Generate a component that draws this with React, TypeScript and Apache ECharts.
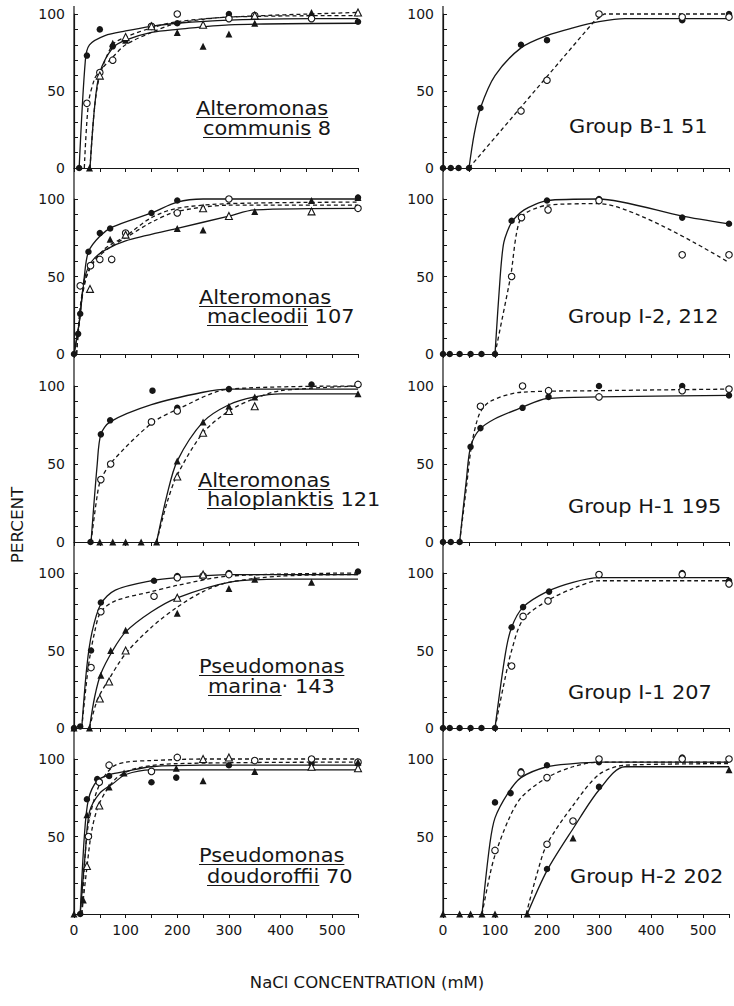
import React, { useEffect, useRef } from 'react';
import * as echarts from 'echarts';

type P = [number, number];

// ---------- tick values ----------
const xMax = 550;
const xStep = 50;
const yTicksMajor = [0, 50, 100];

// ---------- Panel 1: Alteromonas communis 8 ----------
const communisFC: P[] = [[10, 0], [25, 73], [50, 90], [75, 79], [200, 94], [300, 100], [550, 95]];
const communisOC: P[] = [[25, 42], [50, 62], [75, 70], [150, 92], [200, 100], [300, 97], [350, 99], [460, 97]];
const communisFT: P[] = [[30, 0], [75, 81], [100, 83], [200, 88], [250, 79], [300, 87], [350, 94], [460, 101]];
const communisOT: P[] = [[50, 60], [100, 85], [150, 92], [250, 93], [350, 99], [550, 101]];
const communisCurveFC: P[] = [[10, 0], [22, 70], [30, 80], [60, 86], [100, 89], [150, 92], [200, 94], [300, 96], [460, 97], [550, 97]];
const communisCurveOC: P[] = [[20, 0], [28, 42], [40, 58], [50, 63], [75, 72], [100, 80], [150, 88], [200, 94], [300, 98], [550, 99]];
const communisCurveFT: P[] = [[31, 0], [40, 40], [50, 62], [75, 78], [100, 83], [150, 88], [200, 90], [300, 93], [550, 94]];
const communisCurveOT: P[] = [[31, 0], [40, 40], [50, 60], [75, 80], [100, 85], [150, 91], [200, 95], [300, 98], [550, 101]];

// ---------- Panel 2: Alteromonas macleodii 107 ----------
const macleodiiFC: P[] = [[0, 0], [8, 13], [12, 26], [28, 66], [50, 78], [70, 81], [150, 91], [200, 99], [550, 101]];
const macleodiiOC: P[] = [[12, 44], [32, 57], [50, 61], [73, 61], [100, 78], [200, 91], [300, 100], [550, 94]];
const macleodiiFT: P[] = [[70, 74], [200, 81], [250, 80], [350, 92], [460, 99], [550, 101]];
const macleodiiOT: P[] = [[31, 42], [100, 77], [250, 94], [300, 89], [460, 92]];
const macleodiiCurveFC: P[] = [[0, 0], [10, 20], [20, 50], [28, 66], [50, 76], [75, 82], [150, 91], [200, 98], [250, 100], [550, 100]];
const macleodiiCurveFT: P[] = [[0, 0], [10, 20], [20, 48], [35, 60], [60, 67], [100, 73], [200, 81], [300, 89], [350, 93], [550, 94]];
const macleodiiCurveOC: P[] = [[5, 0], [12, 30], [22, 48], [40, 60], [70, 69], [100, 75], [150, 85], [200, 92], [300, 96], [550, 96]];
const macleodiiCurveOT: P[] = [[5, 0], [15, 35], [30, 55], [60, 68], [100, 76], [150, 88], [200, 94], [300, 97], [550, 98]];

// ---------- Panel 3: Alteromonas haloplanktis 121 ----------
const haloFC: P[] = [[32, 0], [52, 69], [70, 78], [152, 97], [200, 86], [300, 98], [460, 101], [550, 101]];
const haloOC: P[] = [[52, 40], [71, 50], [150, 77], [200, 84], [550, 101]];
const haloFT: P[] = [[50, 0], [75, 0], [100, 0], [130, 0], [160, 0], [200, 52], [250, 77], [300, 87], [350, 93], [550, 95]];
const haloOT: P[] = [[200, 42], [250, 70], [300, 84], [350, 87]];
const haloCurveFC: P[] = [[33, 0], [45, 50], [52, 69], [70, 77], [150, 88], [250, 96], [300, 98], [550, 98]];
const haloCurveOC: P[] = [[33, 0], [45, 30], [52, 40], [75, 52], [150, 76], [200, 85], [300, 98], [550, 100]];
const haloCurveFT: P[] = [[160, 0], [180, 30], [200, 52], [250, 77], [300, 88], [350, 93], [400, 95], [550, 95]];
const haloCurveOT: P[] = [[160, 0], [180, 25], [200, 43], [250, 70], [300, 84], [350, 92], [400, 97], [550, 100]];

// ---------- Panel 4: Pseudomonas marina 143 ----------
const marinaFC: P[] = [[0, 0], [12, 1], [33, 50], [52, 81], [155, 95], [200, 98], [300, 100], [550, 101]];
const marinaOC: P[] = [[33, 39], [52, 75], [155, 85], [200, 97], [250, 98], [300, 99]];
const marinaFT: P[] = [[0, 0], [30, 0], [52, 34], [71, 50], [100, 63], [200, 74], [300, 90], [350, 96], [460, 94]];
const marinaOT: P[] = [[50, 19], [68, 30], [100, 50], [200, 84], [250, 99]];
const marinaCurveFC: P[] = [[15, 0], [25, 40], [35, 62], [52, 80], [80, 89], [150, 95], [200, 97], [300, 99], [550, 99]];
const marinaCurveOC: P[] = [[15, 0], [28, 40], [40, 62], [52, 75], [80, 82], [150, 88], [200, 92], [300, 98], [550, 100]];
const marinaCurveFT: P[] = [[30, 0], [40, 20], [52, 35], [75, 50], [100, 62], [150, 75], [200, 84], [300, 94], [400, 96], [550, 96]];
const marinaCurveOT: P[] = [[30, 0], [45, 18], [65, 30], [100, 48], [150, 65], [200, 78], [250, 88], [300, 94], [400, 98], [550, 99]];

// ---------- Panel 5: Pseudomonas doudoroffii 70 ----------
const doudFC: P[] = [[12, 0], [25, 74], [45, 87], [68, 89], [150, 85], [198, 88], [300, 96], [460, 97], [550, 97]];
const doudOC: P[] = [[28, 50], [49, 85], [68, 96], [150, 92], [200, 101], [350, 99], [460, 100], [550, 98]];
const doudFT: P[] = [[0, 0], [18, 9], [25, 64], [68, 82], [97, 91], [198, 94], [250, 86], [350, 92], [550, 98]];
const doudOT: P[] = [[25, 31], [49, 70], [250, 100], [300, 101], [460, 95], [550, 94]];
const doudCurveFC: P[] = [[12, 0], [20, 50], [28, 74], [45, 86], [70, 90], [100, 92], [150, 95], [250, 96], [550, 96]];
const doudCurveOC: P[] = [[15, 0], [22, 40], [30, 62], [50, 84], [75, 95], [100, 98], [150, 99], [250, 100], [550, 100]];
const doudCurveFT: P[] = [[12, 0], [22, 40], [30, 66], [50, 78], [75, 84], [100, 90], [150, 93], [250, 93], [550, 93]];
const doudCurveOT: P[] = [[15, 0], [25, 30], [35, 55], [50, 72], [80, 87], [120, 94], [200, 97], [550, 98]];

// ---------- Panel 6: Group B-1 51 ----------
const b1FC: P[] = [[0, 0], [15, 0], [30, 0], [50, 0], [72, 39], [150, 80], [200, 83], [460, 96], [550, 100]];
const b1OC: P[] = [[150, 37], [200, 57], [300, 100], [460, 98], [550, 98]];
const b1CurveFC: P[] = [[50, 0], [60, 22], [72, 39], [100, 60], [150, 78], [200, 86], [250, 91], [300, 95], [350, 97], [550, 97]];
const b1CurveOC: P[] = [[50, 0], [290, 95], [310, 100], [550, 100]];

// ---------- Panel 7: Group I-2, 212 ----------
const i2FC: P[] = [[0, 0], [13, 0], [32, 0], [53, 0], [74, 0], [100, 0], [132, 86], [200, 99], [300, 100], [460, 88], [550, 84]];
const i2OC: P[] = [[132, 50], [151, 88], [202, 93], [300, 99], [460, 64], [550, 64]];
const i2CurveFC: P[] = [[100, 0], [110, 50], [117, 72], [132, 85], [156, 93], [200, 99], [300, 100], [460, 89], [550, 84]];
const i2CurveOC: P[] = [[100, 0], [130, 50], [150, 88], [200, 96], [300, 97], [550, 59]];

// ---------- Panel 8: Group H-1 195 ----------
const h1FC: P[] = [[0, 0], [15, 0], [32, 0], [53, 61], [72, 73], [153, 86], [203, 93], [300, 100], [460, 100], [550, 94]];
const h1OC: P[] = [[72, 87], [153, 100], [203, 97], [300, 93], [460, 97], [550, 98]];
const h1CurveFC: P[] = [[32, 0], [45, 40], [53, 61], [70, 72], [100, 79], [150, 86], [200, 92], [300, 93], [550, 94]];
const h1CurveOC: P[] = [[32, 0], [45, 35], [55, 62], [70, 82], [90, 90], [150, 96], [300, 97], [550, 98]];

// ---------- Panel 9: Group I-1 207 ----------
const i1FC: P[] = [[0, 0], [13, 0], [32, 0], [53, 0], [74, 0], [100, 0], [132, 65], [154, 78], [204, 88], [300, 99], [460, 100], [550, 95]];
const i1OC: P[] = [[132, 40], [154, 72], [202, 82], [300, 99], [460, 99], [550, 93]];
const i1CurveFC: P[] = [[100, 0], [120, 48], [132, 65], [154, 78], [200, 88], [250, 94], [300, 97], [550, 97]];
const i1CurveOC: P[] = [[100, 0], [115, 25], [132, 50], [154, 70], [200, 82], [250, 90], [300, 95], [550, 95]];

// ---------- Panel 10: Group H-2 202 ----------
const h2FC: P[] = [[100, 72], [130, 78], [150, 92], [200, 96], [300, 98], [460, 101], [200, 29], [300, 82]];
const h2OC: P[] = [[100, 41], [150, 91], [200, 88], [200, 45], [250, 60], [300, 100], [460, 100], [550, 100]];
const h2FT: P[] = [[0, 0], [32, 0], [53, 0], [75, 0], [100, 0], [162, 0], [250, 49], [550, 93]];
const h2CurveSolidL: P[] = [[75, 0], [90, 45], [100, 62], [125, 78], [150, 88], [200, 95], [250, 97], [300, 98], [550, 98]];
const h2CurveDashL: P[] = [[75, 0], [90, 25], [100, 38], [125, 60], [150, 75], [200, 88], [250, 95], [300, 98], [550, 98]];
const h2CurveDashR: P[] = [[160, 0], [180, 25], [200, 45], [250, 70], [300, 90], [350, 96], [550, 97]];
const h2CurveSolidR: P[] = [[162, 0], [200, 28], [250, 55], [300, 80], [350, 95], [550, 95]];

// ---------- titles ----------
const titleLines: string[][] = [
  ['Alteromonas', 'communis 8'],
  ['Group B-1 51'],
  ['Alteromonas', 'macleodii 107'],
  ['Group I-2, 212'],
  ['Alteromonas', 'haloplanktis 121'],
  ['Group H-1 195'],
  ['Pseudomonas', 'marina· 143'],
  ['Group I-1 207'],
  ['Pseudomonas', 'doudoroffii 70'],
  ['Group H-2 202'],
];
const underlinedWords: string[][] = [
  ['Alteromonas', 'communis'], [],
  ['Alteromonas', 'macleodii'], [],
  ['Alteromonas', 'haloplanktis'], [],
  ['Pseudomonas', 'marina'], [],
  ['Pseudomonas', 'doudoroffii'], [],
];
const yAxisTitle = 'PERCENT';
const xAxisTitle = 'NaCl CONCENTRATION (mM)';

type Dots = { kind: 'fc' | 'oc' | 'ft' | 'ot'; data: P[] };
type Curve = { dash: boolean; data: P[]; smooth?: number };

const panelDots: Dots[][] = [
  [{ kind: 'fc', data: communisFC }, { kind: 'oc', data: communisOC }, { kind: 'ft', data: communisFT }, { kind: 'ot', data: communisOT }],
  [{ kind: 'fc', data: b1FC }, { kind: 'oc', data: b1OC }],
  [{ kind: 'fc', data: macleodiiFC }, { kind: 'oc', data: macleodiiOC }, { kind: 'ft', data: macleodiiFT }, { kind: 'ot', data: macleodiiOT }],
  [{ kind: 'fc', data: i2FC }, { kind: 'oc', data: i2OC }],
  [{ kind: 'fc', data: haloFC }, { kind: 'oc', data: haloOC }, { kind: 'ft', data: haloFT }, { kind: 'ot', data: haloOT }],
  [{ kind: 'fc', data: h1FC }, { kind: 'oc', data: h1OC }],
  [{ kind: 'fc', data: marinaFC }, { kind: 'oc', data: marinaOC }, { kind: 'ft', data: marinaFT }, { kind: 'ot', data: marinaOT }],
  [{ kind: 'fc', data: i1FC }, { kind: 'oc', data: i1OC }],
  [{ kind: 'fc', data: doudFC }, { kind: 'oc', data: doudOC }, { kind: 'ft', data: doudFT }, { kind: 'ot', data: doudOT }],
  [{ kind: 'fc', data: h2FC }, { kind: 'oc', data: h2OC }, { kind: 'ft', data: h2FT }],
];
const panelCurves: Curve[][] = [
  [{ dash: false, data: communisCurveFC }, { dash: true, data: communisCurveOC }, { dash: false, data: communisCurveFT }, { dash: true, data: communisCurveOT }],
  [{ dash: false, data: b1CurveFC }, { dash: true, data: b1CurveOC, smooth: 0 }],
  [{ dash: false, data: macleodiiCurveFC }, { dash: true, data: macleodiiCurveOC }, { dash: false, data: macleodiiCurveFT }, { dash: true, data: macleodiiCurveOT }],
  [{ dash: false, data: i2CurveFC, smooth: 0.25 }, { dash: true, data: i2CurveOC, smooth: 0.25 }],
  [{ dash: false, data: haloCurveFC }, { dash: true, data: haloCurveOC }, { dash: false, data: haloCurveFT }, { dash: true, data: haloCurveOT }],
  [{ dash: false, data: h1CurveFC }, { dash: true, data: h1CurveOC }],
  [{ dash: false, data: marinaCurveFC }, { dash: true, data: marinaCurveOC }, { dash: false, data: marinaCurveFT }, { dash: true, data: marinaCurveOT }],
  [{ dash: false, data: i1CurveFC }, { dash: true, data: i1CurveOC }],
  [{ dash: false, data: doudCurveFC }, { dash: true, data: doudCurveOC }, { dash: false, data: doudCurveFT }, { dash: true, data: doudCurveOT }],
  [{ dash: false, data: h2CurveSolidL }, { dash: true, data: h2CurveDashL }, { dash: true, data: h2CurveDashR }, { dash: false, data: h2CurveSolidR }],
];

// ---------- layout ----------
const FONT = '"DejaVu Sans", sans-serif';
const INK = '#161616';
const COL_LEFT = [74, 443];
const COL_WIDTH = [284, 286];
const ROW_TOP = [14, 199, 386, 573, 759];
const ROW_H = [154, 155, 156, 155, 155];
// title anchor positions: [x, baseline] for each line
const TITLE_POS: number[][][] = [
  [[196, 115], [203, 135]],
  [[569, 133]],
  [[199, 304], [207, 323]],
  [[568, 323]],
  [[198, 487], [207, 506]],
  [[568, 513]],
  [[199, 673], [208, 693]],
  [[568, 699]],
  [[199, 862], [207, 883]],
  [[570, 883]],
];
const TITLE_SIZE = 19;
const TITLE_SX = 1.1;

function measure(s: string, size: number): number {
  const ctx = document.createElement('canvas').getContext('2d');
  if (!ctx) return s.length * size * 0.6;
  ctx.font = `${size}px "DejaVu Sans"`;
  return ctx.measureText(s).width;
}

export default function App() {
  const ref = useRef<HTMLDivElement>(null);
  useEffect(() => {
    document.body.style.margin = '0';
    if (!ref.current) return;
    const chart = echarts.init(ref.current, undefined, { renderer: 'svg' });

    const grids: any[] = [];
    const xAxes: any[] = [];
    const yAxes: any[] = [];
    const series: any[] = [];
    const graphics: any[] = [];

    for (let i = 0; i < 10; i++) {
      const row = Math.floor(i / 2);
      const col = i % 2;
      const bottom = row === 4;
      grids.push({ left: COL_LEFT[col], top: ROW_TOP[row], width: COL_WIDTH[col], height: ROW_H[row] });
      xAxes.push({
        type: 'value', gridIndex: i, min: 0, max: xMax, interval: xStep,
        axisLine: { show: true, lineStyle: { color: INK, width: 1.2 } },
        axisTick: { show: true, inside: false, length: 4, lineStyle: { color: INK } },
        axisLabel: {
          show: bottom, fontFamily: FONT, fontSize: 14, color: INK, margin: 9,
          formatter: (v: number) => (v % 100 === 0 ? String(v) : ''),
        },
        splitLine: { show: false },
      });
      yAxes.push({
        type: 'value', gridIndex: i, min: yTicksMajor[0], max: yTicksMajor[2], interval: yTicksMajor[1],
        axisLine: { show: true, lineStyle: { color: INK, width: 1.2 } },
        axisTick: { show: true, inside: true, length: 4, lineStyle: { color: INK } },
        minorTick: { show: true, splitNumber: 5, length: 4, lineStyle: { color: INK } },
        axisLabel: {
          show: true, fontFamily: FONT, fontSize: 14, color: INK, margin: 9,
          formatter: (v: number) => (bottom && v === 0 ? '' : String(v)),
        },
        splitLine: { show: false },
      });
      panelCurves[i].forEach((c) => {
        series.push({
          type: 'line', xAxisIndex: i, yAxisIndex: i, data: c.data,
          smooth: c.smooth === undefined ? 0.3 : c.smooth,
          showSymbol: false, symbol: 'none', clip: false, silent: true, z: 2,
          lineStyle: { color: INK, width: 1.3, type: c.dash ? [4, 3] : 'solid' },
        });
      });
      panelDots[i].forEach((d) => {
        const filled = d.kind === 'fc' || d.kind === 'ft';
        const tri = d.kind === 'ft' || d.kind === 'ot';
        series.push({
          type: 'scatter', xAxisIndex: i, yAxisIndex: i, data: d.data,
          symbol: tri ? 'triangle' : 'circle', symbolSize: tri ? 7 : 6.5,
          clip: false, silent: true, z: 3,
          itemStyle: { color: filled ? INK : '#fff', borderColor: INK, borderWidth: filled ? 0 : 1.1, opacity: 1 },
        });
      });

      // titles
      titleLines[i].forEach((line, li) => {
        const [tx, base] = TITLE_POS[i][li];
        graphics.push({
          type: 'text', x: tx, y: base - 6.6, scaleX: TITLE_SX, silent: true,
          style: {
            text: line, x: 0, y: 0, font: `${TITLE_SIZE}px ${FONT}`, fill: INK,
            align: 'left', textAlign: 'left', verticalAlign: 'middle', textVerticalAlign: 'middle',
          },
        });
        const word = underlinedWords[i][li];
        if (word) {
          const w = measure(word, TITLE_SIZE) * TITLE_SX;
          graphics.push({
            type: 'line', silent: true,
            shape: { x1: tx, y1: base + 2.5, x2: tx + w, y2: base + 2.5 },
            style: { stroke: INK, lineWidth: 1.2 },
          });
        }
      });
    }

    // continuous vertical axis lines
    graphics.push({ type: 'line', silent: true, shape: { x1: COL_LEFT[0], y1: 6, x2: COL_LEFT[0], y2: ROW_TOP[4] + ROW_H[4] }, style: { stroke: INK, lineWidth: 1.2 } });
    graphics.push({ type: 'line', silent: true, shape: { x1: COL_LEFT[1], y1: 6, x2: COL_LEFT[1], y2: ROW_TOP[4] + ROW_H[4] }, style: { stroke: INK, lineWidth: 1.2 } });

    // axis titles
    graphics.push({
      type: 'text', x: 18, y: 525, rotation: Math.PI / 2, scaleX: 1.12, silent: true,
      style: { text: yAxisTitle, x: 0, y: 0, font: `15px ${FONT}`, fill: INK, align: 'center', textAlign: 'center', verticalAlign: 'middle', textVerticalAlign: 'middle' },
    });
    graphics.push({
      type: 'text', x: 367, y: 983, scaleX: 1.1, silent: true,
      style: { text: xAxisTitle, x: 0, y: 0, font: `15px ${FONT}`, fill: INK, align: 'center', textAlign: 'center', verticalAlign: 'middle', textVerticalAlign: 'middle' },
    });

    chart.setOption({
      animation: false,
      backgroundColor: '#fff',
      grid: grids,
      xAxis: xAxes,
      yAxis: yAxes,
      series,
      graphic: graphics,
    });
    return () => chart.dispose();
  }, []);
  return <div ref={ref} style={{ width: 734, height: 1006 }} />;
}
